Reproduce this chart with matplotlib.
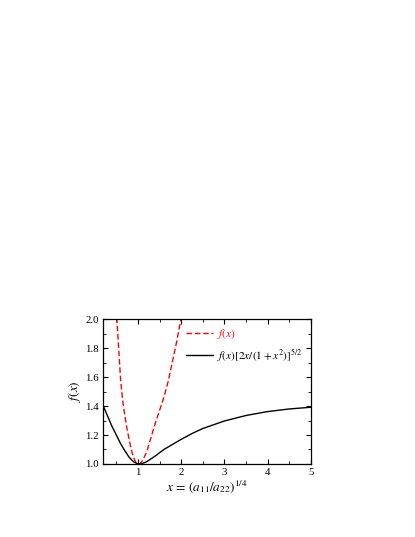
import matplotlib
matplotlib.use("Agg")
import matplotlib.pyplot as plt
from matplotlib.ticker import MultipleLocator

plt.rcParams['font.family'] = ['Liberation Serif', 'DejaVu Serif']
plt.rcParams['mathtext.fontset'] = 'stix'

# f(x)
fX = [0.50, 0.55, 0.60, 0.65, 0.70, 0.75, 0.80, 0.85, 0.90, 0.95, 1.00,
      1.05, 1.10, 1.20, 1.30, 1.40, 1.50, 1.60, 1.70, 1.80, 1.90, 2.00]
fY = [2.07, 1.82, 1.58, 1.43, 1.33, 1.24, 1.165, 1.095, 1.045, 1.012, 1.00,
      1.004, 1.02, 1.08, 1.18, 1.28, 1.37, 1.46, 1.57, 1.71, 1.85, 2.01]

# f(x)[2x/(1+x^2)]^{5/2}
gX = [0.20, 0.30, 0.40, 0.50, 0.60, 0.70, 0.80, 0.90, 1.00, 1.10, 1.20,
      1.30, 1.40, 1.60, 1.80, 2.00, 2.25, 2.50, 3.00, 3.50, 4.00, 4.50, 5.00]
gY = [1.40, 1.33, 1.26, 1.20, 1.14, 1.09, 1.045, 1.015, 1.00, 1.003, 1.015,
      1.035, 1.055, 1.10, 1.135, 1.17, 1.21, 1.245, 1.297, 1.335, 1.362, 1.38, 1.392]

fig = plt.figure(figsize=(4.15, 5.37), dpi=100)
ax = fig.add_axes([0.249, 0.136, 0.5, 0.2695])

ax.plot(fX, fY, color='red', linestyle=(0, (4, 2)), linewidth=1.0, label='$f(x)$')
ax.plot(gX, gY, color='black', linewidth=1.0, label='$f(x)[2x/(1+x^2)]^{5/2}$')

ax.set_xlim(0.2, 5)
ax.set_ylim(1.0, 2.0)
ax.xaxis.set_major_locator(MultipleLocator(1))
ax.xaxis.set_minor_locator(MultipleLocator(0.5))
ax.yaxis.set_major_locator(MultipleLocator(0.2))
ax.yaxis.set_minor_locator(MultipleLocator(0.1))
ax.tick_params(which='both', direction='in', top=True, right=True, labelsize=7.8, pad=3)
ax.tick_params(which='major', length=3.5, width=0.8)
ax.tick_params(which='minor', length=2, width=0.6)
for s in ax.spines.values():
    s.set_linewidth(0.9)

ax.set_xlabel('$x\\,=\\,(a_{11}/a_{22})^{1/4}$', fontsize=9.5, labelpad=1)
ax.set_ylabel('$f(x)$', fontsize=9.5, labelpad=2)

leg = ax.legend(loc='upper right', frameon=False, fontsize=8.2, handlelength=2.3,
                handletextpad=0.4, labelspacing=0.5, borderaxespad=0.3)
leg.get_texts()[0].set_color('red')

fig.savefig('out.png', dpi=100)
